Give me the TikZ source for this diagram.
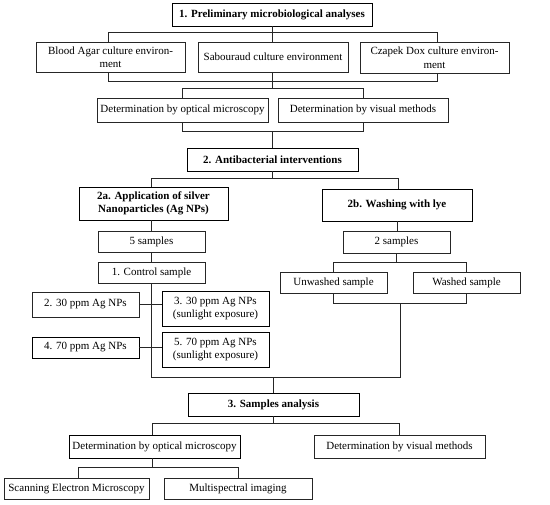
\documentclass[tikz,border=0pt]{standalone}
\usepackage{fontspec}
\setmainfont{Liberation Serif}
\usetikzlibrary{calc}
\begin{document}
\begin{tikzpicture}[x=1pt,y=-1pt,
  box/.style={draw=black!85, line width=0.7pt, inner sep=0pt, align=center, font=\fontsize{11}{13.5}\selectfont},
  thick box/.style={box, draw=black, line width=0.95pt},
  hbox/.style={thick box, font=\fontsize{11}{13.5}\selectfont\bfseries},
  conn/.style={draw=black!85, line width=0.7pt}]
\useasboundingbox (0,0) rectangle (550,505);
% level 1
\node[hbox, minimum width=200, minimum height=23] (b1) at (272,14.5) {1. Preliminary microbiological analyses};
\node[box, minimum width=149, minimum height=30] (blood) at (110.5,57) {Blood Agar culture environ-\\ment};
\node[box, minimum width=150, minimum height=30] (sab) at (273,57) {Sabouraud culture environment};
\node[box, minimum width=149, minimum height=31] (cz) at (434.5,57.5) {Czapek Dox culture environ-\\ment};
\node[box, minimum width=171, minimum height=24] (opt1) at (182.5,110) {Determination by optical microscopy};
\node[box, minimum width=170, minimum height=24] (vis1) at (363,110) {Determination by visual methods};
% level 2
\node[hbox, minimum width=171, minimum height=23] (b2) at (272.5,159.5) {2. Antibacterial interventions};
\node[hbox, minimum width=149, minimum height=33] (b2a) at (153.5,203.5) {2a. Application of silver\\Nanoparticles (Ag NPs)};
\node[hbox, minimum width=150, minimum height=32] (b2b) at (397,205) {2b. Washing with lye};
\node[box, minimum width=107, minimum height=21] (s5) at (151.5,241.5) {5 samples};
\node[box, minimum width=107, minimum height=22] (s2) at (396.5,242) {2 samples};
\node[box, minimum width=107, minimum height=21] (ctrl) at (151.5,272.5) {1. Control sample};
\node[box, minimum width=107, minimum height=21] (unw) at (333.5,282.5) {Unwashed sample};
\node[box, minimum width=107, minimum height=21] (wash) at (466.5,282.5) {Washed sample};
\node[box, minimum width=107, minimum height=25] (p30) at (85.5,304.5) {2. 30 ppm Ag NPs};
\node[thick box, minimum width=107, minimum height=35] (p30s) at (215.5,308.5) {3. 30 ppm Ag NPs\\(sunlight exposure)};
\node[thick box, minimum width=107, minimum height=21] (p70) at (85.5,347.5) {4. 70 ppm Ag NPs};
\node[thick box, minimum width=107, minimum height=35] (p70s) at (215.5,349.5) {5. 70 ppm Ag NPs\\(sunlight exposure)};
% level 3
\node[hbox, minimum width=171, minimum height=23] (b3) at (273.5,404.5) {3. Samples analysis};
\node[thick box, minimum width=171, minimum height=23] (opt2) at (154.5,446.5) {Determination by optical microscopy};
\node[box, minimum width=171, minimum height=23] (vis2) at (399.5,446.5) {Determination by visual methods};
\node[box, minimum width=145, minimum height=21] (sem) at (76.5,488.5) {Scanning Electron Microscopy};
\node[box, minimum width=148, minimum height=21] (multi) at (238,488.5) {Multispectral imaging};
% connectors level 1
\draw[conn] (b1.south) -- (b1.south |- sab.north);
\draw[conn] ([xshift=-2.5pt]blood.north) -- ++(0,-9) -| ([xshift=2.5pt]cz.north);
\draw[conn] ([xshift=-2.5pt]blood.south) -- ++(0,9) -| ([xshift=2.5pt]cz.south);
\draw[conn] ([xshift=-1pt]sab.south) -- ++(0,17);
\draw[conn] (opt1.north) -- ++(0,-9) -| (vis1.north);
\draw[conn] (opt1.south) -- ++(0,9) -| (vis1.south);
\draw[conn] (b2.north) -- ++(0,-17);
% connectors level 2
\draw[conn] ([xshift=-0.5pt]b2.south) -- ++(0,8);
\draw[conn] ([xshift=-2.5pt]b2a.north) -- ++(0,-8) -| ([xshift=1pt]b2b.north);
\draw[conn] ([xshift=-2.5pt]b2a.south) -- ([xshift=-2.5pt]b2a.south |- s5.north);
\draw[conn] (b2b.south) -- (b2b.south |- s2.north);
\draw[conn] ([xshift=-0.5pt]s5.south) -- ([xshift=-0.5pt]s5.south |- ctrl.north);
\draw[conn] (s2.south) -- ++(0,10);
\draw[conn] (unw.north) -- ++(0,-9) -| (wash.north);
\draw[conn] (unw.south) -- ++(0,10) -| (wash.south);
\coordinate (jR) at ([yshift=-10pt]$(unw.south)!0.5!(wash.south)$);
\draw[conn] ([xshift=-0.5pt]ctrl.south) -- ++(0,94) -| (jR);
\draw[conn] (p30.east) -- (p30.east -| p30s.west);
\draw[conn] (p70.east) -- (p70.east -| p70s.west);
\draw[conn] (b3.north) -- ++(0,-16);
% connectors level 3
\draw[conn] (b3.south) -- ++(0,8);
\draw[conn] ([xshift=-2.5pt]opt2.north) -- ++(0,-11) -| (vis2.north);
\draw[conn] ([xshift=-2.5pt]opt2.south) -- ++(0,10);
\draw[conn] ([xshift=1.5pt]sem.north) -- ++(0,-10) -| (multi.north);
\end{tikzpicture}
\end{document}
